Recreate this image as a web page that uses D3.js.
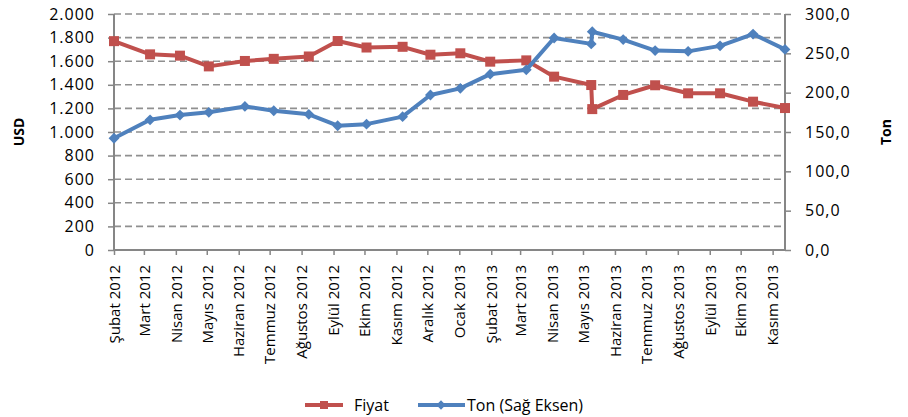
<!DOCTYPE html>
<html>
<head>
<meta charset="utf-8">
<script src="https://cdn.jsdelivr.net/npm/d3@7"></script>
<style>
  body { margin: 0; background: #fff; }
  svg text { font-family: "Open Sans", sans-serif; fill: #000; }
</style>
</head>
<body>
<svg id="chart" width="908" height="417"></svg>
<script>
// dates of the observations (date axis, as in the source chart)
var dates = ["2012-02-01", "2012-03-07", "2012-04-05", "2012-05-03", "2012-06-07", "2012-07-05",
    "2012-08-08", "2012-09-05", "2012-10-03", "2012-11-07", "2012-12-04", "2013-01-02",
    "2013-01-31", "2013-03-07", "2013-04-03", "2013-05-09", "2013-05-10", "2013-06-09",
    "2013-07-10", "2013-08-11", "2013-09-11", "2013-10-13", "2013-11-13"];

var fiyat = [1770, 1658, 1647, 1556, 1602, 1620, 1640, 1771, 1716, 1722, 1655, 1667,
    1596, 1607, 1469, 1398, 1194, 1314, 1396, 1328, 1328, 1257, 1203];

var ton = [142, 165.5, 171.5, 175, 182.5, 177, 172.5, 158, 160, 169.5, 197, 205.5,
    223.5, 229, 269.5, 262, 277.5, 267.5, 253.5, 252.5, 259.5, 274.5, 255];

var tickLabels = ["Şubat 2012", "Mart 2012", "Nisan 2012", "Mayıs 2012", "Haziran 2012",
    "Temmuz 2012", "Ağustos 2012", "Eylül 2012", "Ekim 2012", "Kasım 2012", "Aralık 2012",
    "Ocak 2013", "Şubat 2013", "Mart 2013", "Nisan 2013", "Mayıs 2013", "Haziran 2013",
    "Temmuz 2013", "Ağustos 2013", "Eylül 2013", "Ekim 2013", "Kasım 2013"];

var leftTicks = [0, 200, 400, 600, 800, 1000, 1200, 1400, 1600, 1800, 2000];
var rightTicks = [0, 50, 100, 150, 200, 250, 300];

var red = "#C0504D", blue = "#4F81BD", axisColor = "#868686";

var parse = d3.timeParse("%Y-%m-%d");
var data = dates.map(function (d, i) {
    return { date: parse(d), fiyat: fiyat[i], ton: ton[i] };
});

var svg = d3.select("#chart"),
    margin = { top: 14, right: 123, bottom: 167, left: 114 },
    width = +svg.attr("width") - margin.left - margin.right,
    height = +svg.attr("height") - margin.top - margin.bottom,
    g = svg.append("g").attr("transform", "translate(" + margin.left + "," + margin.top + ")");

svg.insert("rect", ":first-child").attr("width", 908).attr("height", 417).attr("fill", "#fff");

var x = d3.scaleTime()
    .domain([data[0].date, data[data.length - 1].date])
    .range([0, width]);

var yL = d3.scaleLinear().domain([0, 2000]).range([height, 0]);
var yR = d3.scaleLinear().domain([0, 300]).range([height, 0]);

var monthTicks = d3.timeMonth.range(new Date(2012, 1, 1), new Date(2013, 10, 2));

// gridlines
g.append("g")
    .selectAll("line")
    .data(leftTicks.slice(1))
    .enter().append("line")
    .attr("x1", 0).attr("x2", width)
    .attr("y1", function (d) { return yL(d); })
    .attr("y2", function (d) { return yL(d); })
    .attr("stroke", "#909090")
    .attr("stroke-width", 1.6)
    .attr("stroke-dasharray", "7,4");

// axes
var axisL = g.append("g")
    .call(d3.axisLeft(yL).tickValues(leftTicks).tickSize(6).tickPadding(13)
        .tickFormat(function (d) { return d3.format(",")(d).replace(",", "."); }));

var axisR = g.append("g")
    .attr("transform", "translate(" + width + ",0)")
    .call(d3.axisRight(yR).tickValues(rightTicks).tickSize(6).tickPadding(14)
        .tickFormat(function (d) { return d3.format(".1f")(d).replace(".", ","); }));

var axisB = g.append("g")
    .attr("transform", "translate(0," + height + ")")
    .call(d3.axisBottom(x).tickValues(monthTicks).tickSize(5)
        .tickFormat(function (d, i) { return tickLabels[i]; }));

[axisL, axisR, axisB].forEach(function (a) {
    a.select(".domain").attr("stroke", axisColor).attr("stroke-width", 2);
    a.selectAll(".tick line").attr("stroke", axisColor).attr("stroke-width", 1.5);
});
axisL.select(".domain").attr("d", "M0," + height + "V0");
axisR.select(".domain").attr("d", "M0," + height + "V0");
axisB.select(".domain").attr("d", "M0,0H" + width);

axisL.selectAll("text").style("font-size", "16px").style("letter-spacing", "1px");
axisR.selectAll("text").style("font-size", "16px").style("letter-spacing", "1px");

axisB.selectAll("text")
    .style("font-size", "15px")
    .attr("transform", "rotate(-90)")
    .attr("text-anchor", "end")
    .attr("x", -15)
    .attr("y", 0)
    .attr("dy", "0.35em");

// axis titles
svg.append("text")
    .attr("transform", "translate(24,132) rotate(-90)")
    .attr("text-anchor", "middle")
    .style("font-size", "14px").style("font-weight", "bold")
    .text("USD");

svg.append("text")
    .attr("transform", "translate(891,132) rotate(-90)")
    .attr("text-anchor", "middle")
    .style("font-size", "14px").style("font-weight", "bold")
    .text("Ton");

// lines
var lineF = d3.line()
    .x(function (d) { return x(d.date); })
    .y(function (d) { return yL(d.fiyat); });

var lineT = d3.line()
    .x(function (d) { return x(d.date); })
    .y(function (d) { return yR(d.ton); });

g.append("path")
    .datum(data)
    .attr("d", lineF)
    .attr("fill", "none")
    .attr("stroke", red)
    .attr("stroke-width", 4)
    .attr("stroke-linejoin", "round");

g.selectAll(".sq")
    .data(data)
    .enter().append("rect")
    .attr("class", "sq")
    .attr("x", function (d) { return x(d.date) - 5; })
    .attr("y", function (d) { return yL(d.fiyat) - 5; })
    .attr("width", 10).attr("height", 10)
    .attr("fill", red);

g.append("path")
    .datum(data)
    .attr("d", lineT)
    .attr("fill", "none")
    .attr("stroke", blue)
    .attr("stroke-width", 4)
    .attr("stroke-linejoin", "round");

var diamond = d3.symbol().type(d3.symbolDiamond2).size(75);

g.selectAll(".dm")
    .data(data)
    .enter().append("path")
    .attr("class", "dm")
    .attr("d", diamond)
    .attr("transform", function (d) { return "translate(" + x(d.date) + "," + yR(d.ton) + ")"; })
    .attr("fill", blue);

// legend
var legend = svg.append("g").attr("transform", "translate(0,405)");

legend.append("line").attr("x1", 305).attr("x2", 343).attr("y1", 0).attr("y2", 0)
    .attr("stroke", red).attr("stroke-width", 4);
legend.append("rect").attr("x", 320).attr("y", -4).attr("width", 8).attr("height", 8).attr("fill", red);
legend.append("text").attr("x", 354).attr("y", 0).attr("dy", "0.35em")
    .style("font-size", "16px").text("Fiyat");

legend.append("line").attr("x1", 418).attr("x2", 465).attr("y1", 0).attr("y2", 0)
    .attr("stroke", blue).attr("stroke-width", 4);
legend.append("path").attr("d", d3.symbol().type(d3.symbolDiamond2).size(55))
    .attr("transform", "translate(441,0)").attr("fill", blue);
legend.append("text").attr("x", 467).attr("y", 0).attr("dy", "0.35em")
    .style("font-size", "16px").text("Ton (Sağ Eksen)");
</script>
</body>
</html>
